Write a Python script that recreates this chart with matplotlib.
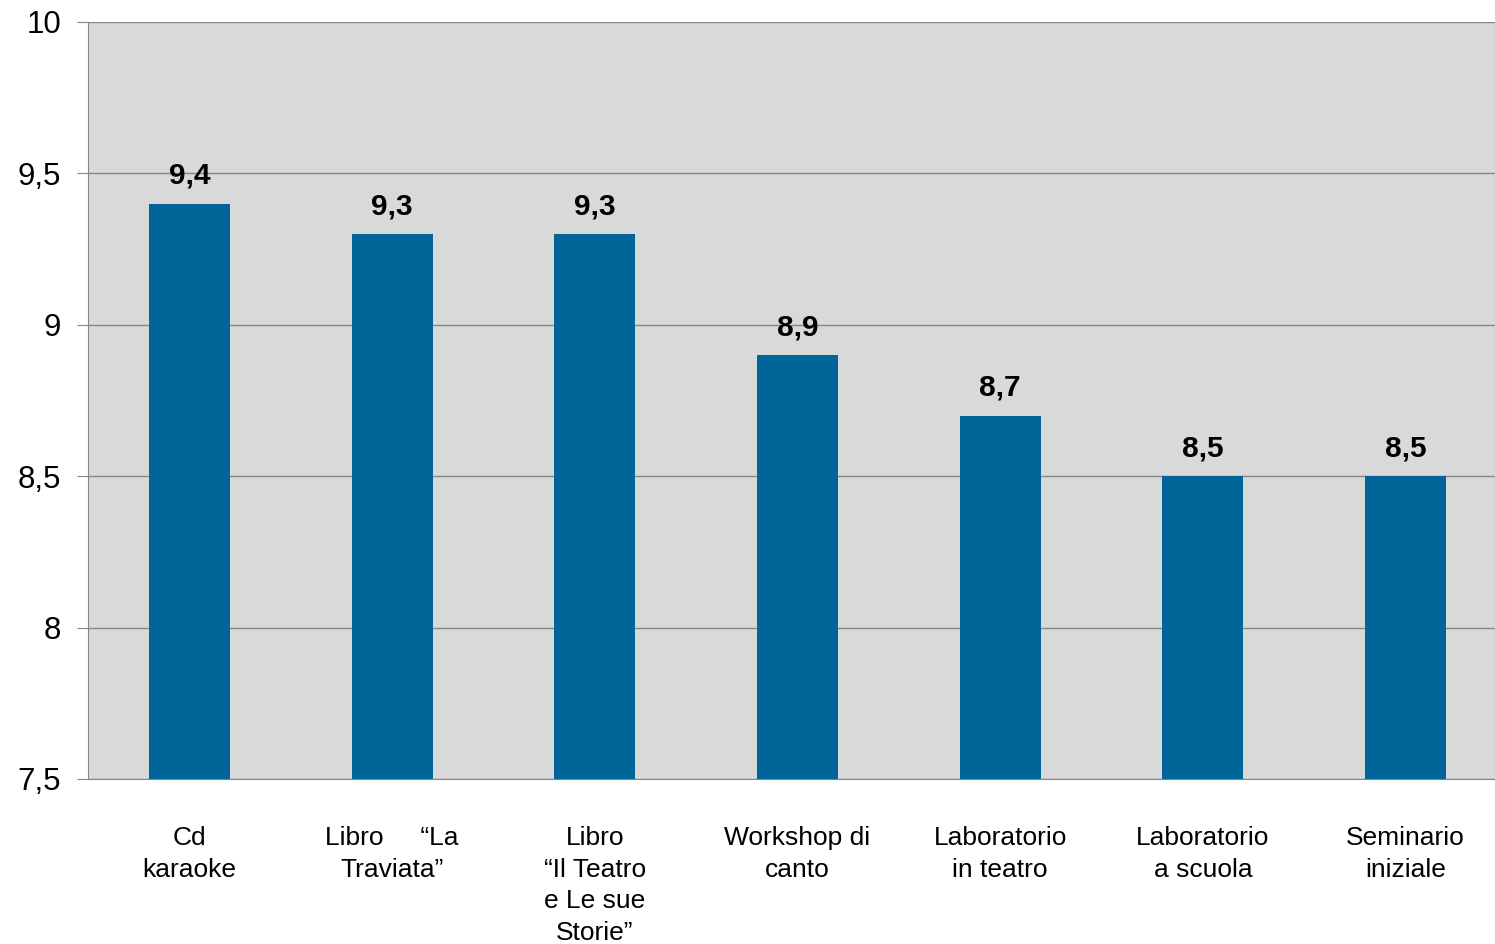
import matplotlib.pyplot as plt

categories = [
    'Cd\nkaraoke',
    'Libro     \u201cLa\nTraviata\u201d',
    'Libro\n\u201cIl Teatro\ne Le sue\nStorie\u201d',
    'Workshop di\ncanto',
    'Laboratorio\nin teatro',
    'Laboratorio\na scuola',
    'Seminario\niniziale',
]
values = [9.4, 9.3, 9.3, 8.9, 8.7, 8.5, 8.5]
y_ticks = [7.5, 8, 8.5, 9, 9.5, 10]
y_tick_labels = ['7,5', '8', '8,5', '9', '9,5', '10']


def main():
    plt.rcParams['font.family'] = ['Liberation Sans', 'DejaVu Sans']

    fig = plt.figure(figsize=(14.95, 9.44), dpi=100)
    W, H = 1495, 944
    left, right, top, bottom = 88, 1507, 22, 779
    ax = fig.add_axes([left / W, 1 - bottom / H, (right - left) / W, (bottom - top) / H])
    ax.set_facecolor('#d9d9d9')

    x = range(len(values))
    bars = ax.bar(x, values, width=0.4, color='#006699', zorder=3)
    for b, v in zip(bars, values):
        ax.annotate(f'{v:.1f}'.replace('.', ','), (b.get_x() + b.get_width() / 2, v),
                    xytext=(0, 10), textcoords='offset points', ha='center', va='bottom',
                    fontsize=21.5, fontweight='bold', color='black', zorder=4)

    ax.set_ylim(7.5, 10)
    ax.set_xlim(-0.5, 6.5)
    ax.set_yticks(y_ticks)
    ax.set_yticklabels(y_tick_labels)
    ax.set_xticks(list(x))
    ax.set_xticklabels(categories, linespacing=1.4)
    ax.grid(axis='y', color='#878787', linewidth=1, zorder=1)

    ax.tick_params(axis='y', length=8, color='#878787', pad=11.5, labelsize=22.5)
    ax.tick_params(axis='x', length=0, pad=34, labelsize=19)

    for side in ['top', 'right']:
        ax.spines[side].set_visible(False)
    for side in ['left', 'bottom']:
        ax.spines[side].set_color('#878787')

    plt.savefig('out.png', dpi=100)


if __name__ == '__main__':
    main()
